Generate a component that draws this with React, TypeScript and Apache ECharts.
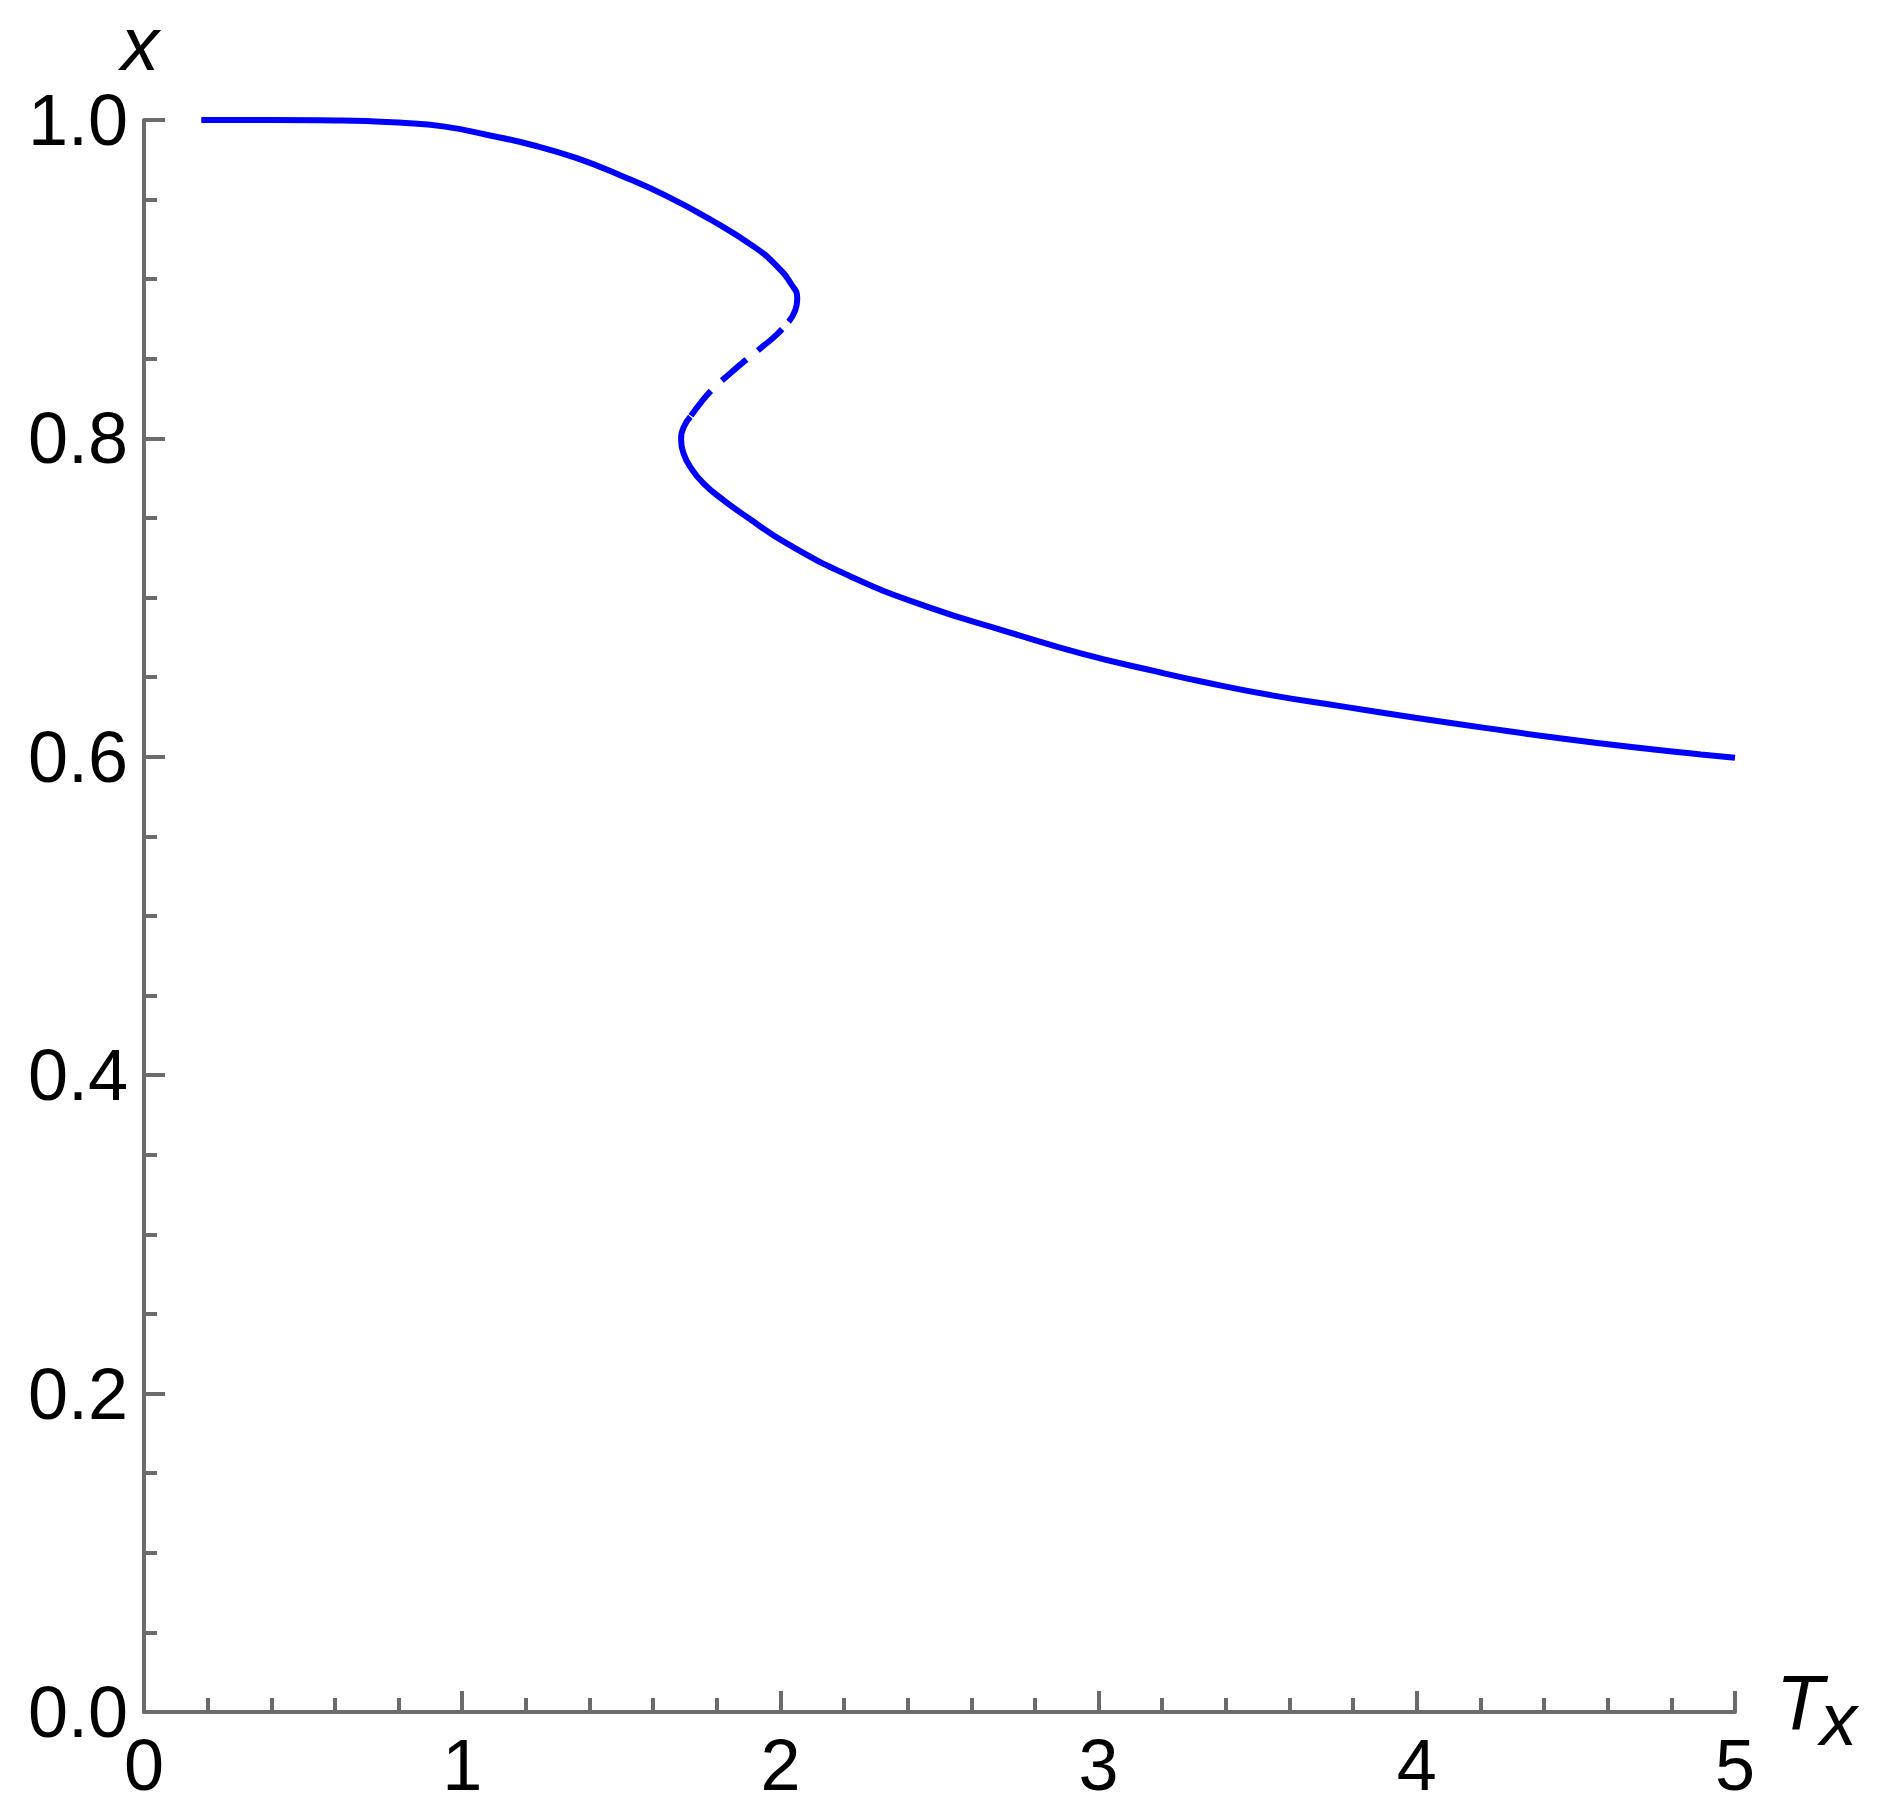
import React, { useEffect, useRef } from "react";
import * as echarts from "echarts";

// Stable upper branch (T_x, x)
const upperT = [0.18, 0.4, 0.6, 0.7, 0.8, 0.94, 1.08, 1.22, 1.36, 1.5, 1.64, 1.78, 1.92, 1.99, 2.034, 2.053, 2.047, 2.026];
const upperX = [1.0, 1.0, 0.9997, 0.9993, 0.9984, 0.996, 0.9906, 0.9843, 0.976, 0.965, 0.9525, 0.9375, 0.92, 0.908, 0.897, 0.888, 0.8806, 0.8733];

// Unstable middle branch (dashed)
const unstableT = [2.026, 1.99, 1.94, 1.89, 1.84, 1.79, 1.75, 1.717];
const unstableX = [0.8733, 0.8655, 0.857, 0.849, 0.8405, 0.8315, 0.8225, 0.8136];

// Stable lower branch
const lowerT = [1.717, 1.696, 1.688, 1.696, 1.717, 1.759, 1.822, 1.895, 2.02, 2.224, 2.465, 2.706, 2.947, 3.187, 3.33, 3.545, 3.77, 3.995, 4.219, 4.444, 4.668, 4.893, 5.0];
const lowerX = [0.8136, 0.807, 0.799, 0.7904, 0.782, 0.7716, 0.7611, 0.7506, 0.734, 0.713, 0.694, 0.679, 0.6648, 0.6533, 0.647, 0.6386, 0.6315, 0.6245, 0.618, 0.6118, 0.6063, 0.6015, 0.5994];

const xTickLabels = ["0", "1", "2", "3", "4", "5"];
const yTickLabels = ["0.0", "0.2", "0.4", "0.6", "0.8", "1.0"];

const zip = (a: number[], b: number[]) => a.map((v, i) => [v, b[i]]);

export default function App() {
  const ref = useRef<HTMLDivElement>(null);
  useEffect(() => {
    if (!ref.current) return;
    const chart = echarts.init(ref.current, null, { renderer: "svg" });
    const font = '"Liberation Sans", Arial, sans-serif';
    const axisColor = "#6b6b6b";
    const blue = "#0000ff";
    chart.setOption({
      animation: false,
      backgroundColor: "#ffffff",
      grid: { left: 144, top: 120, width: 1591, height: 1592, containLabel: false, outerBoundsMode: "none" },
      xAxis: {
        type: "value",
        min: 0,
        max: 5,
        interval: 1,
        axisLine: { show: true, onZero: false, lineStyle: { color: axisColor, width: 4 } },
        axisTick: { show: true, inside: true, length: 21, lineStyle: { color: axisColor, width: 4 } },
        minorTick: { show: true, splitNumber: 5, length: 14, lineStyle: { color: axisColor, width: 4 } },
        splitLine: { show: false },
        minorSplitLine: { show: false },
        axisLabel: {
          show: true,
          margin: 17,
          fontSize: 72,
          fontFamily: font,
          color: "#000000",
          showMinLabel: true,
          showMaxLabel: true,
          formatter: (v: number) => xTickLabels[Math.round(v)] ?? String(v),
        },
      },
      yAxis: {
        type: "value",
        min: 0,
        max: 1,
        interval: 0.2,
        axisLine: { show: true, onZero: false, lineStyle: { color: axisColor, width: 4 } },
        axisTick: { show: true, inside: true, length: 21, lineStyle: { color: axisColor, width: 4 } },
        minorTick: { show: true, splitNumber: 4, length: 13, lineStyle: { color: axisColor, width: 4 } },
        splitLine: { show: false },
        minorSplitLine: { show: false },
        axisLabel: {
          show: true,
          margin: 16,
          fontSize: 72,
          fontFamily: font,
          color: "#000000",
          showMinLabel: true,
          showMaxLabel: true,
          formatter: (v: number) => yTickLabels[Math.round(v * 5)] ?? v.toFixed(1),
        },
      },
      graphic: [
        {
          type: "text",
          x: 140,
          y: 43,
          style: { text: "x", fontSize: 76, fontStyle: "italic", fontFamily: font, fill: "#000", align: "center", verticalAlign: "middle" },
        },
        {
          type: "text",
          x: 1776,
          y: 1703,
          style: { text: "T", fontSize: 78, fontStyle: "italic", fontFamily: font, fill: "#000", align: "left", verticalAlign: "middle" },
        },
        {
          type: "text",
          x: 1820,
          y: 1719,
          style: { text: "x", fontSize: 74, fontStyle: "italic", fontFamily: font, fill: "#000", align: "left", verticalAlign: "middle" },
        },
      ],
      series: [
        {
          type: "line",
          data: zip(upperT, upperX),
          showSymbol: false,
          smooth: 0.5,
          clip: false,
          lineStyle: { color: blue, width: 6, cap: "butt" },
        },
        {
          type: "line",
          data: zip(unstableT, unstableX),
          showSymbol: false,
          smooth: 0.5,
          clip: false,
          lineStyle: { color: blue, width: 6, type: [32, 15], dashOffset: 37, cap: "butt" },
        },
        {
          type: "line",
          data: zip(lowerT, lowerX),
          showSymbol: false,
          smooth: 0.5,
          clip: false,
          lineStyle: { color: blue, width: 6, cap: "butt" },
        },
      ],
    });
    return () => chart.dispose();
  }, []);
  return <div ref={ref} style={{ position: "absolute", left: 0, top: 0, width: 1880, height: 1819 }} />;
}
